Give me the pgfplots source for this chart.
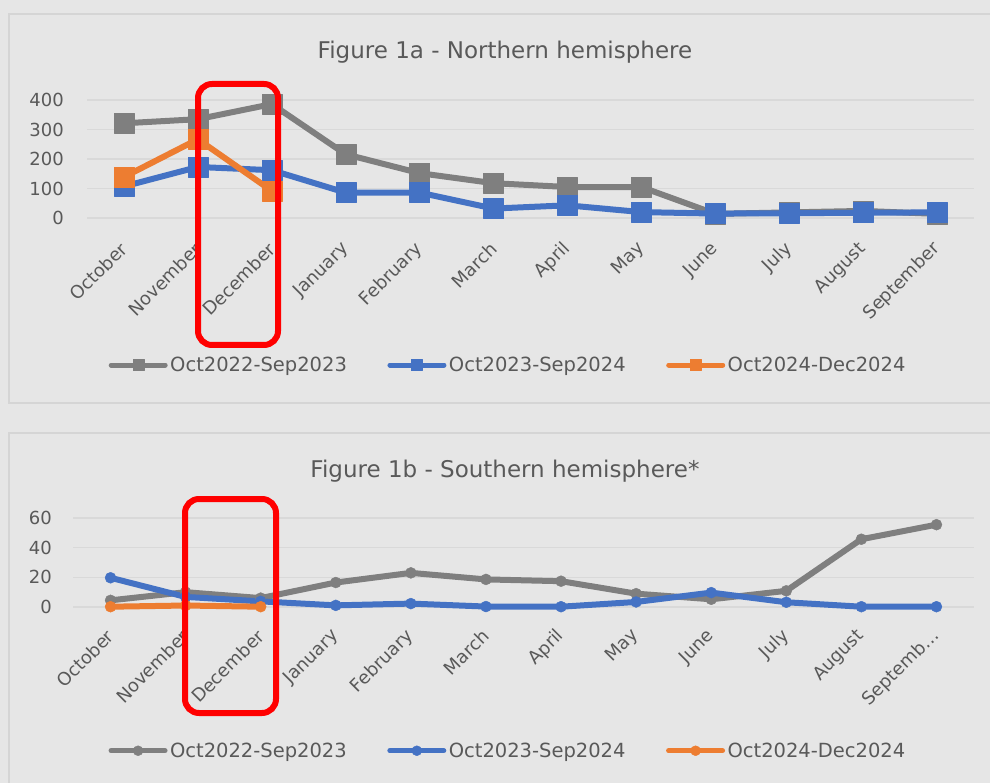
\documentclass[border=0pt]{standalone}
\usepackage{fontspec}
\setmainfont{DejaVu Sans}
\usepackage{pgfplots}
\pgfplotsset{compat=1.18}

\definecolor{bg}{HTML}{E6E6E6}
\definecolor{framec}{HTML}{D5D5D5}
\definecolor{gridc}{HTML}{D9D9D9}
\definecolor{txt}{HTML}{595959}
\definecolor{cgray}{HTML}{7F7F7F}
\definecolor{cblue}{HTML}{4472C4}
\definecolor{corange}{HTML}{ED7D31}

\pgfplotsset{
  common/.style={
    scale only axis, clip=false,
    xmin=-0.5, xmax=11.5, xtick={0,...,11},
    axis line style={draw=none},
    major tick length=0pt,
    ymajorgrids, grid style={gridc, line width=1.5pt},
    tick label style={font=\fontsize{18}{21}\selectfont, text=txt},
    /pgf/number format/assume math mode=true,
    legend columns=3,
    legend cell align=left,
    legend style={draw=none, fill=none, font=\fontsize{19.5}{22}\selectfont, text=txt,
      /tikz/every even column/.append style={column sep=38pt},
      nodes={inner sep=2.5pt}},
  },
  ser/.style={line width=6pt, line join=round, line cap=round, color=#1, mark options={line width=0.4pt, fill=#1, draw=#1}},
}

\begin{document}
\begin{tikzpicture}
\fill[bg] (0,0) rectangle (990pt,-783pt);
\useasboundingbox (0,0) rectangle (990pt,-783pt);
\draw[framec, line width=2pt] (9pt,-14pt) rectangle (1010pt,-403pt);
\draw[framec, line width=2pt] (9pt,-433pt) rectangle (1010pt,-800pt);

\node[font=\fontsize{23}{27}\selectfont, text=txt] at (505pt,-52pt) {Figure 1a - Northern hemisphere};
\node[font=\fontsize{23}{27}\selectfont, text=txt] at (505pt,-471pt) {Figure 1b - Southern hemisphere*};

% Panel 1
\begin{axis}[common,
  at={(87pt,-218pt)}, anchor=south west,
  width=887pt, height=118pt,
  ymin=0, ymax=400, ytick={0,100,200,300,400},
  xticklabels={October,November,December,January,February,March,April,May,June,July,August,September},
  xticklabel style={anchor=east, inner sep=0pt, yshift=-28pt, rotate=45},
  yticklabel style={anchor=east, inner sep=0pt, xshift=-23pt},
  legend style={at={(0.475,-1.246)}, anchor=center},
  legend image code/.code={\draw[#1, line width=5pt, mark size=5.5pt, mark repeat=2, mark phase=2] plot coordinates {(0pt,0pt) (27pt,0pt) (54pt,0pt)};},
]
\addplot[ser=cgray, mark=square*, mark size=10pt] coordinates {
 (0,321) (1,335) (2,386) (3,216) (4,152) (5,118) (6,105) (7,105) (8,14) (9,19) (10,24) (11,14)};
\addlegendentry{Oct2022-Sep2023}
\addplot[ser=cblue, mark=square*, mark size=10pt] coordinates {
 (0,107) (1,173) (2,162) (3,86) (4,86) (5,32) (6,43) (7,20) (8,15) (9,16) (10,18) (11,19)};
\addlegendentry{Oct2023-Sep2024}
\addplot[ser=corange, mark=square*, mark size=10pt] coordinates {
 (0,139) (1,267) (2,92)};
\addlegendentry{Oct2024-Dec2024}
\end{axis}

% Panel 2
\begin{axis}[common,
  at={(73pt,-607pt)}, anchor=south west,
  width=901pt, height=89pt,
  ymin=0, ymax=60, ytick={0,20,40,60},
  xticklabels={October,November,December,January,February,March,April,May,June,July,August,{Septemb…}},
  xticklabel style={anchor=east, inner sep=0pt, yshift=-26pt, rotate=45},
  yticklabel style={anchor=east, inner sep=0pt, xshift=-21pt},
  legend style={at={(0.483,-1.615)}, anchor=center},
  legend image code/.code={\draw[#1, line width=5pt, mark size=5pt, mark repeat=2, mark phase=2] plot coordinates {(0pt,0pt) (27pt,0pt) (54pt,0pt)};},
]
\addplot[ser=cgray, mark=*, mark size=5.5pt] coordinates {
 (0,4.5) (1,10) (2,6) (3,16.5) (4,23) (5,18.6) (6,17.4) (7,9) (8,5.2) (9,10.9) (10,45.7) (11,55.5)};
\addlegendentry{Oct2022-Sep2023}
\addplot[ser=cblue, mark=*, mark size=5.5pt] coordinates {
 (0,19.7) (1,6.8) (2,3.8) (3,1.1) (4,2.3) (5,0.3) (6,0.2) (7,3.4) (8,9.7) (9,3.2) (10,0.2) (11,0.2)};
\addlegendentry{Oct2023-Sep2024}
\addplot[ser=corange, mark=*, mark size=5.5pt] coordinates {
 (0,0.2) (1,1) (2,0.2)};
\addlegendentry{Oct2024-Dec2024}
\end{axis}

\draw[red, line width=6pt, rounded corners=14pt] (198pt,-84pt) rectangle (278pt,-345pt);
\draw[red, line width=6pt, rounded corners=14pt] (185pt,-499pt) rectangle (276pt,-713pt);
\end{tikzpicture}
\end{document}
